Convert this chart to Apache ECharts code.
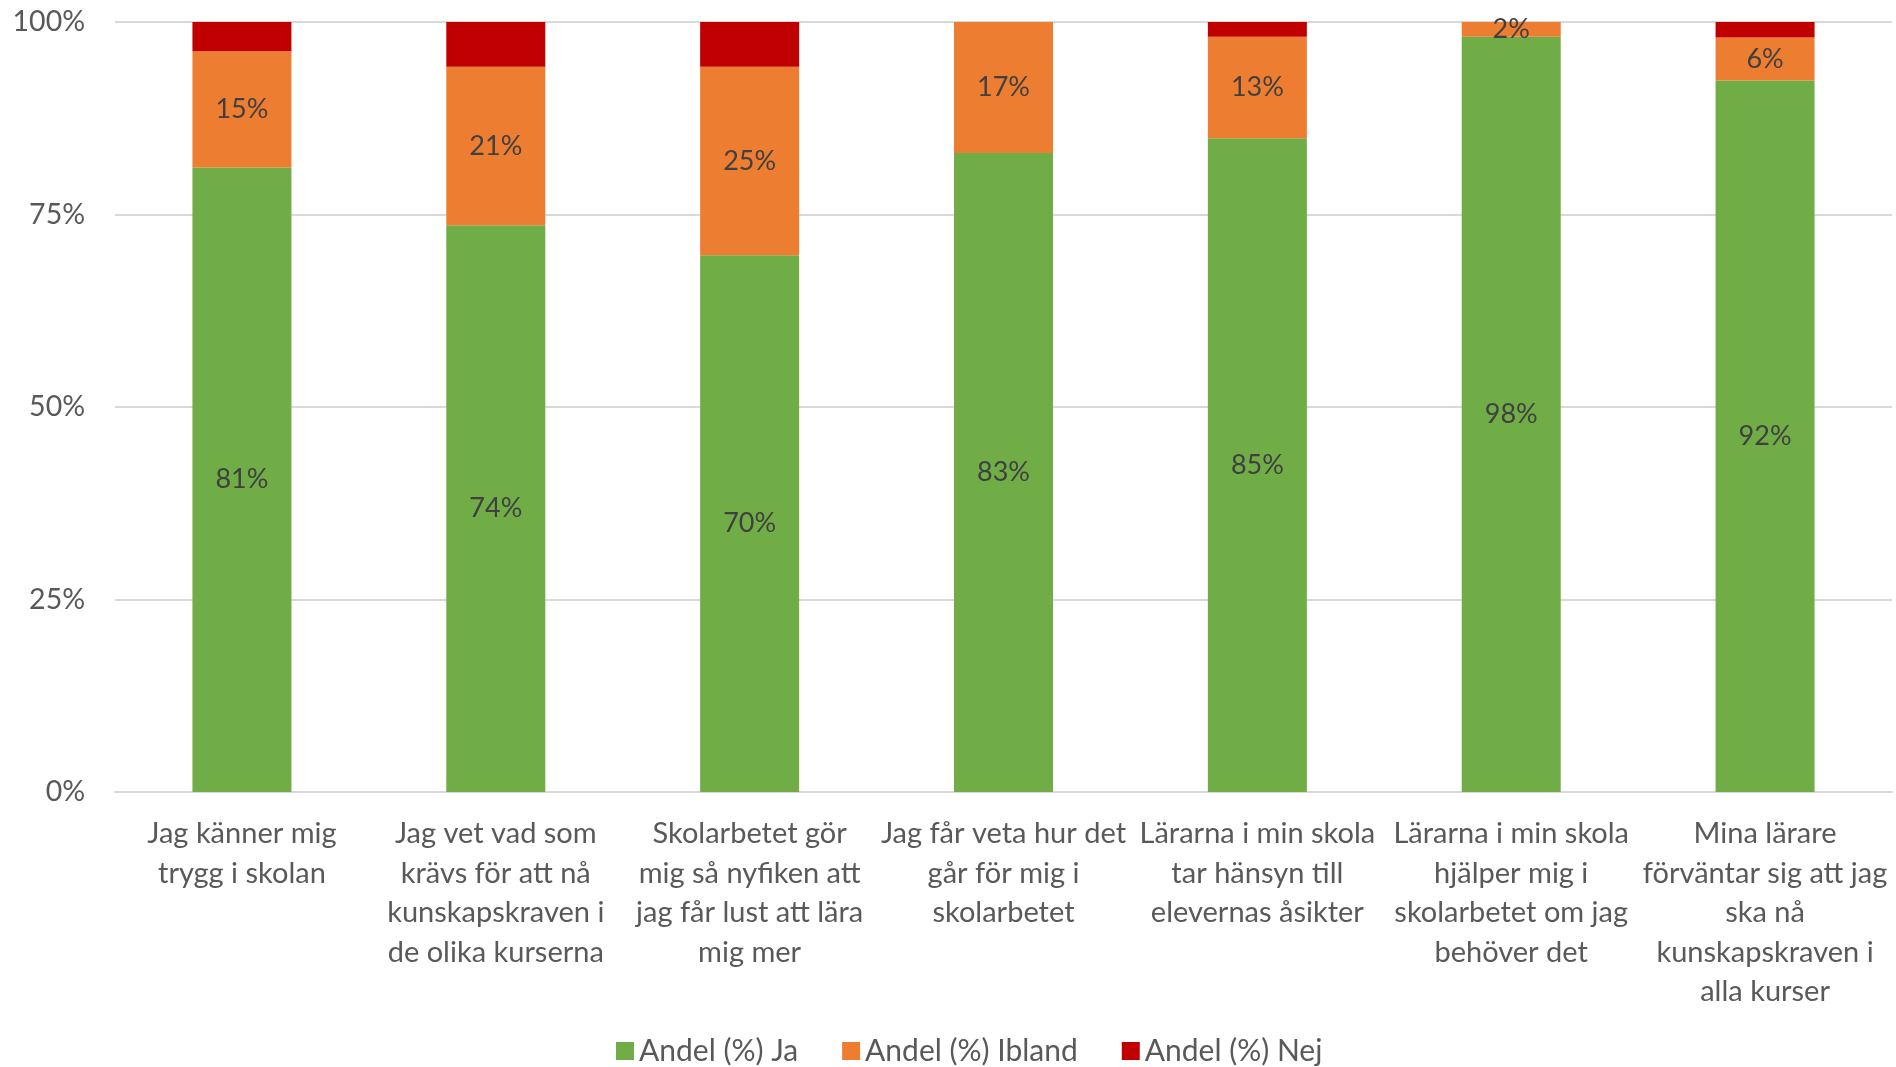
<!DOCTYPE html>
<html>
<head>
<meta charset="utf-8">
<title>Andel elever</title>
<script src="https://cdn.jsdelivr.net/npm/echarts@6/dist/echarts.min.js"></script>
<style>
  html, body { margin: 0; padding: 0; background: #fff; }
  #main { width: 1896px; height: 1067px; }
</style>
</head>
<body>
<div id="main"></div>
<script>
var categories = [
    'Jag känner mig\ntrygg i skolan',
    'Jag vet vad som\nkrävs för att nå\nkunskapskraven i\nde olika kurserna',
    'Skolarbetet gör\nmig så nyfiken att\njag får lust att lära\nmig mer',
    'Jag får veta hur det\ngår för mig i\nskolarbetet',
    'Lärarna i min skola\ntar hänsyn till\nelevernas åsikter',
    'Lärarna i min skola\nhjälper mig i\nskolarbetet om jag\nbehöver det',
    'Mina lärare\nförväntar sig att jag\nska nå\nkunskapskraven i\nalla kurser'
];
var ja = [81.1, 73.6, 69.7, 83.0, 84.9, 98.1, 92.4];
var ibland = [15.1, 20.6, 24.5, 17.0, 13.2, 1.9, 5.6];
var nej = [3.8, 5.8, 5.8, 0, 1.9, 0, 2.0];
var yTicks = [0, 25, 50, 75, 100];

var font = 'Lato';
var pct = function (p) { return Math.round(p.value) + '%'; };

option = {
    animation: false,
    textStyle: { fontFamily: font },
    grid: {
        left: 115,
        right: 4,
        top: 22,
        bottom: 275
    },
    legend: {
        top: 1031,
        left: 611,
        itemWidth: 18,
        itemHeight: 18,
        itemGap: 44,
        icon: 'rect',
        textStyle: { fontSize: 30, color: '#595959', fontFamily: font }
    },
    xAxis: {
        type: 'category',
        data: categories,
        axisLine: { lineStyle: { color: '#D9D9D9', width: 2 } },
        axisTick: { show: false },
        axisLabel: {
            interval: 0,
            hideOverlap: false,
            margin: 22,
            fontSize: 29,
            lineHeight: 39.5,
            color: '#595959',
            fontFamily: font
        }
    },
    yAxis: {
        type: 'value',
        min: yTicks[0],
        max: yTicks[yTicks.length - 1],
        interval: 25,
        axisLabel: {
            formatter: '{value}%',
            fontSize: 28.5,
            margin: 30,
            color: '#595959',
            fontFamily: font
        },
        splitLine: { lineStyle: { color: '#D9D9D9', width: 2 } }
    },
    series: [{
        name: 'Andel (%) Ja',
        type: 'bar',
        stack: 'total',
        barWidth: '39%',
        data: ja,
        itemStyle: { color: '#70AD47' },
        label: { show: true, position: 'inside', formatter: pct, fontSize: 27, color: '#404040', fontFamily: font }
    }, {
        name: 'Andel (%) Ibland',
        type: 'bar',
        stack: 'total',
        data: ibland,
        itemStyle: { color: '#ED7D31' },
        label: { show: true, position: 'inside', formatter: pct, fontSize: 27, color: '#404040', fontFamily: font }
    }, {
        name: 'Andel (%) Nej',
        type: 'bar',
        stack: 'total',
        data: nej,
        itemStyle: { color: '#C00000' }
    }]
};
var myChart = echarts.init(document.getElementById('main'));
myChart.setOption(option);
</script>
</body>
</html>
